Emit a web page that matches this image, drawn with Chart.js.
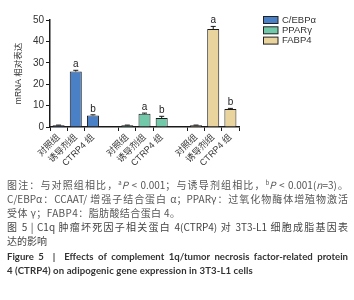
<!DOCTYPE html>
<html><head><meta charset="utf-8">
<script src="https://cdn.jsdelivr.net/npm/chart.js@4.4.1/dist/chart.umd.min.js"></script>
<style>
html,body{margin:0;padding:0;background:#fff;width:354px;height:300px;overflow:hidden;}
#wrap{position:absolute;left:0;top:0;width:354px;height:178px;}
.cap{position:absolute;left:7px;width:341px;font-family:"Noto Sans CJK SC","Liberation Sans",sans-serif;font-size:10px;line-height:14px;color:#555;white-space:nowrap;}
.j{text-align:justify;text-align-last:justify;white-space:normal;}
.en{font-family:Lato,"Liberation Sans",sans-serif;font-weight:bold;font-size:9.6px;color:#333;}
sup{font-size:6px;line-height:0;}
</style></head>
<body>
<div id="wrap"><canvas id="c" width="354" height="178"></canvas></div>
<div class="cap j" style="top:178px">图注：与对照组相比，<sup>a</sup><i>P</i> &lt; 0.001；与诱导剂组相比，<sup>b</sup><i>P</i> &lt; 0.001(<i>n</i>=3)。</div>
<div class="cap j" style="top:192px">C/EBPα：CCAAT/ 增强子结合蛋白 α；PPARγ：过氧化物酶体增殖物激活</div>
<div class="cap" style="top:206px;letter-spacing:0.4px">受体 γ；FABP4：脂肪酸结合蛋白 4。</div>
<div class="cap j" style="top:220px;color:#444">图 5 | C1q 肿瘤坏死因子相关蛋白 4(CTRP4) 对 3T3-L1 细胞成脂基因表</div>
<div class="cap" style="top:234px;color:#444">达的影响</div>
<div class="cap en j" style="top:250px">Figure 5 &nbsp;| &nbsp;Effects of complement 1q/tumor necrosis factor-related protein</div>
<div class="cap en" style="top:264px;letter-spacing:0.1px">4 (CTRP4) on adipogenic gene expression in 3T3-L1 cells</div>
<script>
const genes = ['C/EBPα', 'PPARγ', 'FABP4'];
const conditions = ['对照组', '诱导剂组', 'CTRP4 组'];
const cebpaValues = [0.8, 25.9, 5.4];
const pparValues = [0.8, 6.2, 4.2];
const fabp4Values = [0.8, 45.8, 8.4];
const cebpaErrors = [0.1, 0.6, 0.3];
const pparErrors = [0.1, 0.3, 0.8];
const fabp4Errors = [0.1, 1.2, 0.3];
const marks = ['', 'a', 'b'];
const yTicks = [0, 10, 20, 30, 40, 50];
const colors = ['#4a80c6', '#72c9aa', '#e9d49e'];

const labels = [...conditions, '', ...conditions, '', ...conditions];
const seriesVals = [cebpaValues, pparValues, fabp4Values];
const seriesErr = [cebpaErrors, pparErrors, fabp4Errors];
function place(arr, g){ const out = new Array(labels.length).fill(null); arr.forEach((v,i)=>{ out[g*4+i]=v; }); return out; }

const datasets = genes.map((g,k)=>({
  label: g,
  data: place(seriesVals[k], k),
  errs: place(seriesErr[k], k),
  marks: place(marks, k),
  backgroundColor: colors[k],
  borderColor: '#1a1a1a',
  borderWidth: 1,
  categoryPercentage: 0.7,
  barPercentage: 1
}));

const FONT = '"Liberation Sans","Noto Sans CJK SC",sans-serif';

const extras = {
  id: 'extras',
  afterDatasetsDraw(chart){
    const ctx = chart.ctx, y = chart.scales.y;
    ctx.save();
    chart.data.datasets.forEach((ds, di)=>{
      const meta = chart.getDatasetMeta(di);
      ds.data.forEach((v,i)=>{
        if (v === null) return;
        const bar = meta.data[i];
        const top = y.getPixelForValue(v + ds.errs[i]);
        const base = y.getPixelForValue(v);
        ctx.strokeStyle = '#1a1a1a'; ctx.lineWidth = 1;
        ctx.beginPath();
        ctx.moveTo(bar.x, base); ctx.lineTo(bar.x, top);
        ctx.moveTo(bar.x - 2.5, top); ctx.lineTo(bar.x + 2.5, top);
        ctx.stroke();
        if (ds.marks[i]) {
          ctx.fillStyle = '#222';
          ctx.font = '10px ' + FONT;
          ctx.textAlign = 'center'; ctx.textBaseline = 'bottom';
          ctx.fillText(ds.marks[i], bar.x, top - 1);
        }
      });
    });
    // legend
    ctx.font = '9.5px ' + FONT;
    ctx.textAlign = 'left'; ctx.textBaseline = 'middle';
    chart.data.datasets.forEach((ds, k)=>{
      const cy = 20 + k*10.3;
      ctx.fillStyle = ds.backgroundColor;
      ctx.fillRect(263, cy - 3.5, 15, 7);
      ctx.strokeStyle = '#222'; ctx.lineWidth = 1;
      ctx.strokeRect(263.5, cy - 3.5, 14.5, 7);
      ctx.fillStyle = '#333';
      ctx.fillText(ds.label, 282, cy);
    });
    ctx.restore();
  }
};

new Chart(document.getElementById('c'), {
  type: 'bar',
  data: { labels, datasets },
  options: {
    responsive: false,
    animation: false,
    layout: { padding: { left: 14, right: 115, top: 20, bottom: 0 } },
    plugins: { legend: { display: false }, tooltip: { enabled: false } },
    scales: {
      x: {
        stacked: true,
        grid: { display: true, drawOnChartArea: false, drawTicks: true, tickLength: 4,
                color: c => (labels[c.index] === '' ? 'rgba(0,0,0,0)' : '#1a1a1a'), lineWidth: 1 },
        border: { display: true, color: '#1a1a1a', width: 1.5 },
        ticks: { autoSkip: false, minRotation: 45, maxRotation: 45, padding: 1,
                 font: { size: 9, family: FONT }, color: '#333' },
        afterFit(s){ s.height = 51; }
      },
      y: {
        min: 0, max: 50,
        afterBuildTicks(s){ s.ticks = yTicks.map(v=>({value:v})); },
        grid: { display: true, drawOnChartArea: false, drawTicks: true, tickLength: 4, color: '#1a1a1a' },
        border: { display: true, color: '#1a1a1a', width: 1.5 },
        ticks: { padding: 2, font: { size: 10, family: FONT }, color: '#333' },
        title: { display: true, text: 'mRNA 相对表达', font: { size: 8.5, family: FONT }, color: '#333', padding: { top: 0, bottom: 2 } },
        afterFit(s){ s.width = 36; }
      }
    }
  },
  plugins: [extras]
});
</script>
</body></html>
